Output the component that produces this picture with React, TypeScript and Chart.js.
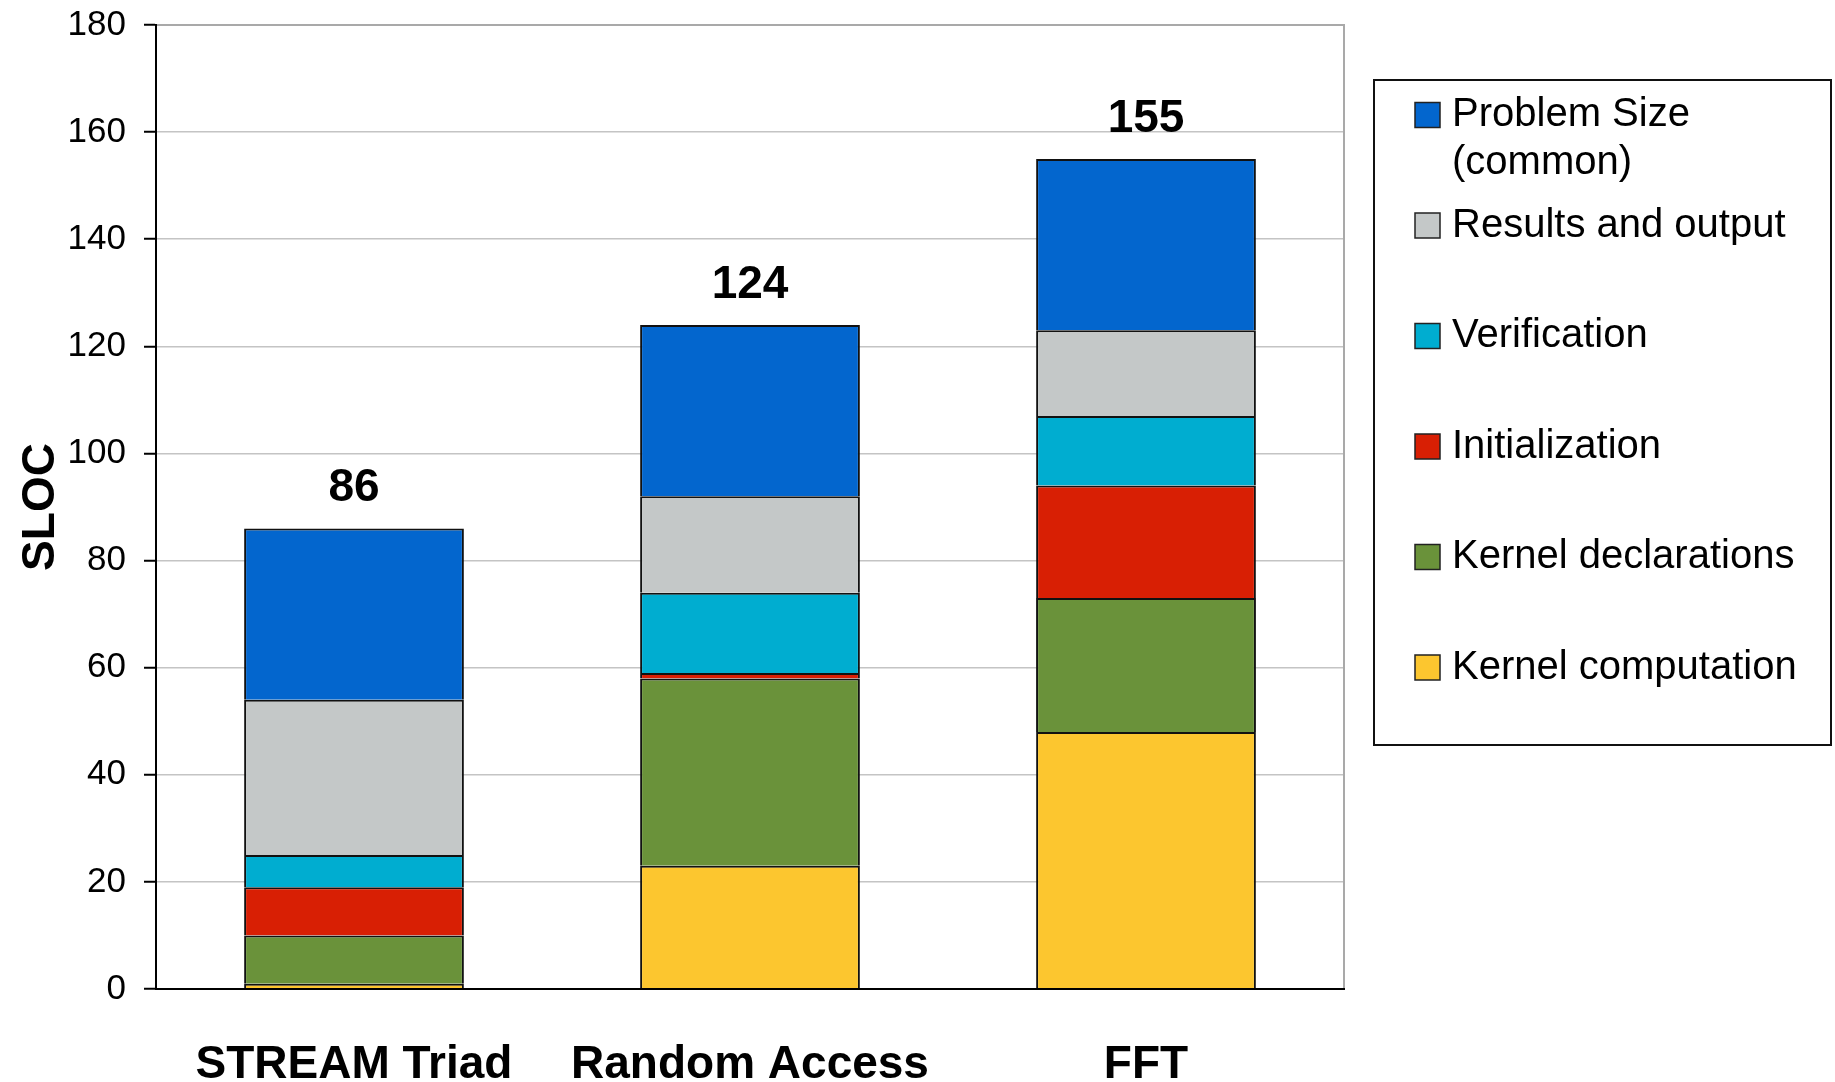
import React, { useEffect, useRef } from "react";
import { Chart, registerables } from "chart.js";

Chart.register(...registerables);

// ---- data ----
const categories = ["STREAM Triad", "Random Access", "FFT"];
const kernelComputation = [1, 23, 48];
const kernelDeclarations = [9, 35, 25];
const initialization = [9, 1, 21];
const verification = [6, 15, 13];
const resultsAndOutput = [29, 18, 16];
const problemSize = [32, 32, 32];

const seriesLabels = [
  "Kernel computation",
  "Kernel declarations",
  "Initialization",
  "Verification",
  "Results and output",
  "Problem Size (common)",
];
const seriesValues = [
  kernelComputation,
  kernelDeclarations,
  initialization,
  verification,
  resultsAndOutput,
  problemSize,
];
const seriesColors = ["#FCC62F", "#6A923A", "#D81F04", "#00ADD0", "#C4C8C8", "#0366CE"];

const yMin = 0;
const yMax = 180;
const yStep = 20;
const yTitle = "SLOC";

const FONT = "'Liberation Sans', Arial, Helvetica, sans-serif";

// ---- plugins ----
const framePlugin = {
  id: "frame",
  beforeDatasetsDraw(chart: any) {
    const { ctx, chartArea: a } = chart;
    ctx.save();
    ctx.strokeStyle = "#a9a9a9";
    ctx.lineWidth = 2;
    ctx.beginPath();
    ctx.moveTo(a.left, a.top);
    ctx.lineTo(a.right, a.top);
    ctx.lineTo(a.right, a.bottom);
    ctx.stroke();
    ctx.restore();
  },
};

const totalsPlugin = {
  id: "totals",
  afterDatasetsDraw(chart: any) {
    const { ctx } = chart;
    const ds = chart.data.datasets;
    const meta = chart.getDatasetMeta(ds.length - 1);
    const yScale = chart.scales.y;
    ctx.save();
    ctx.font = `bold 46px ${FONT}`;
    ctx.fillStyle = "#000";
    ctx.textAlign = "center";
    ctx.textBaseline = "alphabetic";
    chart.data.labels.forEach((_: any, i: number) => {
      const total = ds.reduce((s: number, d: any) => s + d.data[i], 0);
      const x = meta.data[i].x;
      const y = yScale.getPixelForValue(total);
      ctx.fillText(String(total), x, y - 27);
    });
    ctx.restore();
  },
};

function wrapText(ctx: CanvasRenderingContext2D, text: string, maxW: number): string[] {
  const words = text.split(" ");
  const lines: string[] = [];
  let cur = "";
  for (const w of words) {
    const t = cur ? cur + " " + w : w;
    if (ctx.measureText(t).width > maxW && cur) {
      lines.push(cur);
      cur = w;
    } else cur = t;
  }
  if (cur) lines.push(cur);
  return lines;
}

const legendPlugin = {
  id: "boxLegend",
  afterDraw(chart: any) {
    const { ctx, chartArea: a } = chart;
    const boxL = a.right + 30;
    const boxT = 80;
    const boxW = 457;
    const boxH = 665;
    ctx.save();
    ctx.strokeStyle = "#111";
    ctx.lineWidth = 2;
    ctx.strokeRect(boxL, boxT, boxW, boxH);

    ctx.font = `40px ${FONT}`;
    ctx.textAlign = "left";
    ctx.textBaseline = "middle";
    const ds = chart.data.datasets.slice().reverse();
    const sq = 25;
    const rowGap = 110.5;
    const lineGap = 48;
    ds.forEach((d: any, k: number) => {
      const cy = boxT + 35 + k * rowGap;
      const sx = boxL + 41;
      ctx.fillStyle = d.backgroundColor;
      ctx.fillRect(sx, cy - sq / 2, sq, sq);
      ctx.strokeStyle = "#222";
      ctx.lineWidth = 1.5;
      ctx.strokeRect(sx, cy - sq / 2, sq, sq);
      ctx.fillStyle = "#000";
      const lines = wrapText(ctx, d.label, boxW - 95);
      lines.forEach((ln, j) => ctx.fillText(ln, boxL + 78, cy + j * lineGap));
    });
    ctx.restore();
  },
};

export default function App() {
  const ref = useRef<HTMLCanvasElement | null>(null);

  useEffect(() => {
    if (!ref.current) return;
    const chart = new Chart(ref.current, {
      type: "bar",
      data: {
        labels: categories,
        datasets: seriesLabels.map((label, i) => ({
          label,
          data: seriesValues[i],
          backgroundColor: seriesColors[i],
          borderColor: "#111",
          borderWidth: 2,
          barPercentage: 0.555,
          categoryPercentage: 1,
        })),
      },
      options: {
        responsive: false,
        animation: false,
        devicePixelRatio: 1,
        layout: { autoPadding: false, padding: { top: 25, right: 491, left: 0, bottom: 0 } },
        plugins: {
          legend: { display: false },
          tooltip: { enabled: false },
        },
        scales: {
          x: {
            stacked: true,
            grid: { display: false, drawTicks: false },
            border: { display: true, color: "#000", width: 2, z: 1 },
            ticks: {
              font: { family: FONT, size: 46, weight: "bold" },
              color: "#000",
              padding: 49,
              maxRotation: 0,
              autoSkip: false,
            },
            afterFit: (s: any) => {
              s.height = 93;
              s.paddingLeft = 0;
              s.paddingRight = 0;
            },
          },
          y: {
            stacked: true,
            min: yMin,
            max: yMax,
            ticks: {
              stepSize: yStep,
              font: { family: FONT, size: 35 },
              color: "#000",
              padding: 18,
            },
            grid: {
              color: "#c4c4c4",
              lineWidth: 1.5,
              tickLength: 12,
              tickColor: "#000",
              tickWidth: 2,
            },
            border: { display: true, color: "#000", width: 2, z: 1 },
            title: {
              display: true,
              text: yTitle,
              font: { family: FONT, size: 46, weight: "bold" },
              color: "#000",
              padding: { top: 14, bottom: 0 },
            },
            afterFit: (s: any) => {
              s.width = 156;
              s.paddingTop = 0;
              s.paddingBottom = 0;
            },
          },
        },
      } as any,
      plugins: [framePlugin, totalsPlugin, legendPlugin],
    });
    return () => chart.destroy();
  }, []);

  return (
    <canvas
      ref={ref}
      width={1835}
      height={1082}
      style={{ position: "absolute", left: 0, top: 0, display: "block", background: "#fff" }}
    />
  );
}
